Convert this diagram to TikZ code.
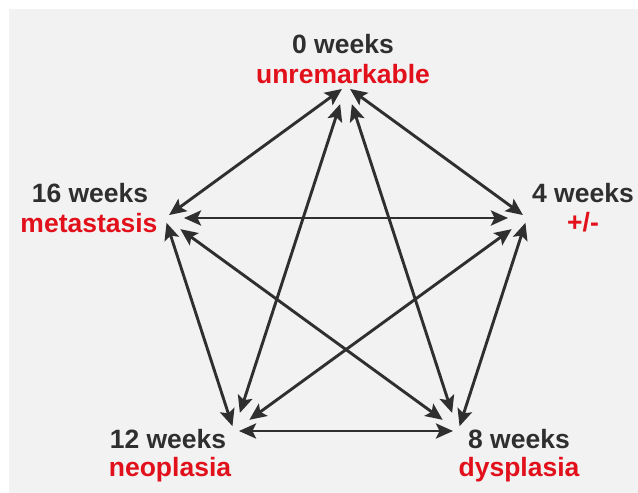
\documentclass[tikz,border=0pt]{standalone}
\usepackage{fontspec}
\setmainfont{Liberation Sans}
\definecolor{stBg}{HTML}{F2F2F2}
\definecolor{stDark}{HTML}{2F2F2F}
\definecolor{stRed}{HTML}{E2101B}
\usetikzlibrary{arrows.meta}

\begin{document}
\begin{tikzpicture}[x=1pt, y=-1pt,
  weeklbl/.style={anchor=base, text=stDark, font=\fontsize{26.5}{30}\selectfont\bfseries},
  statelbl/.style={anchor=base, text=stRed, font=\fontsize{26.5}{30}\selectfont\bfseries},
  link/.style={{Stealth[length=17pt, width=15pt, inset=3.5pt]}-{Stealth[length=17pt, width=15pt, inset=3.5pt]}, line width=2.9pt, draw=stDark, fill=stDark},
  outer/.style={link, shorten <=5pt, shorten >=5pt},
  inner/.style={link, shorten <=19pt, shorten >=19pt}]
  \useasboundingbox (0,0) rectangle (638,493);
  \fill[stBg] (9,9) rectangle (638,493);

  % corners of the pentagon
  \coordinate (v0) at (346,86);
  \coordinate (v4) at (527,218);
  \coordinate (v8) at (458,431);
  \coordinate (v12) at (234,431);
  \coordinate (v16) at (165,218);

  % labels
  \node[weeklbl] (w0) at (343,53) {0 weeks};
  \node[statelbl] (s0) at (343,83) {unremarkable};
  \node[weeklbl] (w4) at (583,202) {4 weeks};
  \node[statelbl] (s4) at (583,231) {+/-};
  \node[weeklbl] (w8) at (519,448) {8 weeks};
  \node[statelbl] (s8) at (519,476) {dysplasia};
  \node[weeklbl] (w12) at (168,448) {12 weeks};
  \node[statelbl] (s12) at (170,476) {neoplasia};
  \node[weeklbl] (w16) at (90,202) {16 weeks};
  \node[statelbl] (s16) at (89,232) {metastasis};

  % outer ring
  \draw[outer] (v0) -- (v4);
  \draw[outer] (v4) -- (v8);
  \draw[outer] (v8) -- (v12);
  \draw[outer] (v12) -- (v16);
  \draw[outer] (v16) -- (v0);

  % star
  \draw[inner] (v0) -- (v8);
  \draw[inner] (v0) -- (v12);
  \draw[inner] (v4) -- (v16);
  \draw[inner] (v4) -- (v12);
  \draw[inner] (v16) -- (v8);
\end{tikzpicture}
\end{document}
